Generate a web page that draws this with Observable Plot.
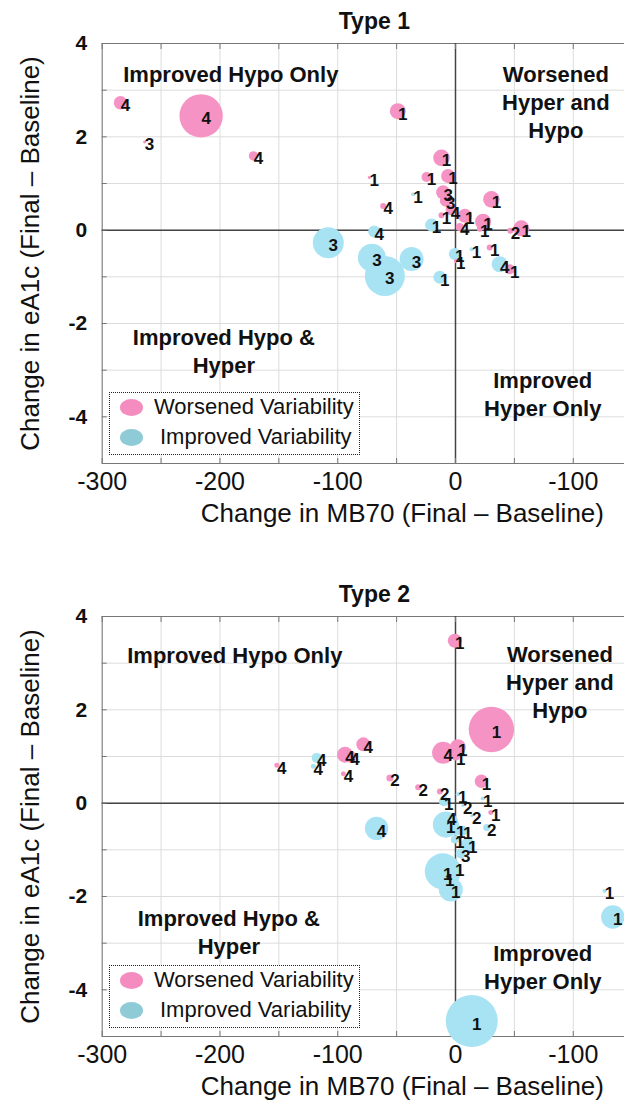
<!DOCTYPE html>
<html><head><meta charset="utf-8">
<script src="https://cdn.jsdelivr.net/npm/d3@7"></script>
<script src="https://cdn.jsdelivr.net/npm/@observablehq/plot@0.6"></script>
<style>
body{margin:0;background:#fff;font-family:"Liberation Sans",Arial,sans-serif;}
.panel{position:relative;width:624px;overflow:hidden;}
.legend{position:absolute;left:109px;top:392px;width:251px;height:63px;border:1px dotted #222;background:#fff;box-sizing:border-box;}
.legend .sw{position:absolute;width:23px;height:17px;border-radius:50%;}
.legend .lt{position:absolute;font-size:22px;line-height:22px;color:#111;white-space:nowrap;}
</style></head>
<body>
<div id="root"></div>
<script>
// ---------- axis ticks ----------
const xGridValues = [-300,-250,-200,-150,-100,-50,0,50,100];
const xTickValues = [-300,-200,-100,0,100];
const xTickLabels = ["-300","-200","-100","0","-100"];
const yGridValues = [-5,-4,-3,-2,-1,0,1,2,3,4];
const yTickValues = [-4,-2,0,2,4];
const yTickLabels = ["-4","-2","0","2","4"];
const groups = ["Worsened Variability","Improved Variability"];
const groupColors = ["#f594c4","#a8e3f4"];

// ---------- Type 1 ----------
const t1MB70 = [-284.5,-216,-264,-171.5,-73.2,-108,-69,-61.4,-71,-60,-37.3,-36,-20.3,-13.3,-11.9,-24.6,-6.3,-10.5,-8.2,-4.2,-11.9,7.9,3.6,23.4,20.6,30.5,46.6,55.9,29,13.6,-0.6,0.3,37.5,46,-49];
const t1A1c = [2.73,2.45,1.89,1.59,1.13,-0.27,-0.03,0.52,-0.59,-0.98,-0.62,0.77,0.11,-1.01,1.55,1.14,1.16,0.81,0.63,0.43,0.32,0.31,0.07,0.18,0.03,0.66,-0.01,0.04,-0.37,-0.41,-0.51,-0.66,-0.73,-0.84,2.55];
const t1Size = [2.8,29.4,0.14,1.4,0.14,15,2.25,0.56,12.25,25,9,0.25,2.6,2.6,4.3,1.56,3.06,3.06,2.25,1.56,0.56,3.06,1,4,0.56,4.3,0.56,4,0.56,0.25,2.25,0.25,4,1.56,4];
const t1Label = ["4","4","3","4","1","3","4","4","3","3","3","1","1","1","1","1","1","3","3","4","1","1","4","1","1","1","2","1","1","1","1","1","4","1","1"];
const t1Group = ["W","W","W","W","W","I","I","W","I","I","I","I","I","I","W","W","W","W","W","W","W","W","W","W","W","W","W","W","W","I","I","W","I","W","W"];

// ---------- Type 2 ----------
const t2MB70 = [-0.6,30.5,-10.5,2.0,0.3,22,-78.3,-93.8,-89.6,-117.8,-120.7,-151.7,-95.2,-55.7,-31.7,-13.3,-67,-9.9,1.9,6.2,13.8,23.1,29.9,26.5,-8.2,-7.4,0.3,6.2,-0.6,10.4,4.5,-10.8,-0.6,-9.1,-4.0,126.5,133.6,13.8];
const t2A1c = [3.48,1.58,1.08,1.20,1.0,0.47,1.26,1.04,1.0,0.97,0.79,0.81,0.63,0.54,0.34,0.25,-0.54,0.04,0.19,-0.05,-0.27,0.10,-0.2,-0.52,-0.46,-0.29,-0.57,-0.59,-0.78,-0.89,-1.08,-1.46,-1.38,-1.59,-1.85,-1.88,-2.44,-4.67];
const t2Size = [3.06,32.2,7.6,4,1,2.8,3.06,4,2.25,1.56,0.39,0.39,0.39,0.77,0.56,0.56,8.6,1.56,0.25,0.14,0.14,0.25,0.39,0.77,10.6,0.56,2.25,1.56,1,3.06,1.56,20.25,2.25,4,9,0.25,8.6,42.25];
const t2Label = ["1","1","4","1","1","1","4","4","4","4","4","4","4","2","2","2","4","1","1","2","2","1","1","2","1","4","1","1","1","1","3","1","1","1","1","1","1","1"];
const t2Group = ["W","W","W","W","W","W","W","W","W","I","I","W","W","W","W","W","I","I","I","I","I","I","W","I","I","I","I","I","I","I","I","I","I","I","I","I","I","I"];

// ---------- quadrant notes ----------
const noteText = ["Improved Hypo Only","Worsened\nHyper and\nHypo","Improved Hypo &\nHyper","Improved\nHyper Only"];
const t1NoteX = [-190.8,85.2,-196.7,74.1];
const t1NoteY = [3.37,2.77,-2.56,-3.49];
const t2NoteX = [-187.4,88.6,-192.5,74.1];
const t2NoteY = [3.20,2.62,-2.74,-3.50];

const rows = (xs, ys, ss, ls, gs) => xs.map((x,i)=>({x, y: ys[i], size: ss[i], label: ls[i], group: gs[i]==="W" ? groups[0] : groups[1]}));
const notes = (xs, ys) => noteText.map((t,i)=>({text:t, x: xs[i], y: ys[i]}));

const FONT = "Liberation Sans, Arial, sans-serif";

function makePanel(title, data, noteRows, height) {
  const div = document.createElement("div");
  div.className = "panel";
  div.style.height = height + "px";
  const plot = Plot.plot({
    width: 624, height,
    marginLeft: 101.7, marginRight: 0, marginTop: 43, marginBottom: height - 463,
    style: {fontFamily: FONT, background: "white", color: "#111", overflow: "visible"},
    x: {domain: [-300, 143.5]},
    y: {domain: [-5, 4]},
    r: {type: "sqrt", domain: [0, 100], range: [0, 40]},
    color: {domain: groups, range: groupColors},
    marks: [
      Plot.gridX(xGridValues, {stroke: "#dcdcdc", strokeOpacity: 1}),
      Plot.gridY(yGridValues, {stroke: "#dcdcdc", strokeOpacity: 1}),
      Plot.ruleX([-300], {stroke: "#777"}),
      Plot.ruleY([4, -5], {stroke: "#777"}),
      Plot.ruleX([0], {stroke: "#444", strokeWidth: 1.5}),
      Plot.ruleY([0], {stroke: "#444", strokeWidth: 1.5}),
      Plot.axisX(xGridValues, {anchor: "bottom", tickSize: -5, text: null, stroke: "#777", label: null}),
      Plot.axisX(xGridValues, {anchor: "top", tickSize: -5, text: null, stroke: "#777", label: null}),
      Plot.axisY(yGridValues, {anchor: "left", tickSize: -5, text: null, stroke: "#777", label: null}),
      Plot.axisX(xTickValues, {anchor: "bottom", tickSize: 0, tickPadding: 9, fontSize: 25, label: null,
        tickFormat: d => xTickLabels[xTickValues.indexOf(d)]}),
      Plot.axisY(yTickValues, {anchor: "left", tickSize: 0, tickPadding: 15, fontSize: 21, fontWeight: "bold", label: null,
        tickFormat: d => yTickLabels[yTickValues.indexOf(d)]}),
      Plot.text(noteRows, {x: "x", y: "y", text: "text", fontSize: 22, fontWeight: "bold", lineHeight: 1.27, fill: "#111"}),
      Plot.dot(data, {x: "x", y: "y", r: "size", fill: "group", stroke: "none"}),
      Plot.text(data, {x: "x", y: "y", text: "label", dx: 5, dy: 3, fontSize: 17, fontWeight: "bold", fill: "#111"}),
      Plot.text([title], {frameAnchor: "top", textAnchor: "middle", lineAnchor: "middle", dx: 11, dy: -22, fontSize: 23, fontWeight: "bold", text: d => d, fill: "#111"}),
      Plot.text(["Change in MB70 (Final – Baseline)"], {frameAnchor: "bottom", textAnchor: "middle", lineAnchor: "middle", dx: 39, dy: 50, fontSize: 26, text: d => d, fill: "#111"}),
      Plot.text(["Change in eA1c (Final – Baseline)"], {frameAnchor: "left", textAnchor: "middle", lineAnchor: "middle", dx: -72, rotate: -90, fontSize: 26, text: d => d, fill: "#111"})
    ]
  });
  div.appendChild(plot);
  const lg = document.createElement("div");
  lg.className = "legend";
  lg.innerHTML =
    `<div class="sw" style="left:10px;top:6px;background:#f58cc0"></div>` +
    `<div class="lt" style="left:44px;top:3px">${groups[0]}</div>` +
    `<div class="sw" style="left:10px;top:36px;background:#8fcbd7"></div>` +
    `<div class="lt" style="left:50px;top:33px">${groups[1]}</div>`;
  div.appendChild(lg);
  return div;
}

const root = document.getElementById("root");
root.appendChild(makePanel("Type 1", rows(t1MB70, t1A1c, t1Size, t1Label, t1Group), notes(t1NoteX, t1NoteY), 573));
root.appendChild(makePanel("Type 2", rows(t2MB70, t2A1c, t2Size, t2Label, t2Group), notes(t2NoteX, t2NoteY), 531));
</script>
</body></html>
